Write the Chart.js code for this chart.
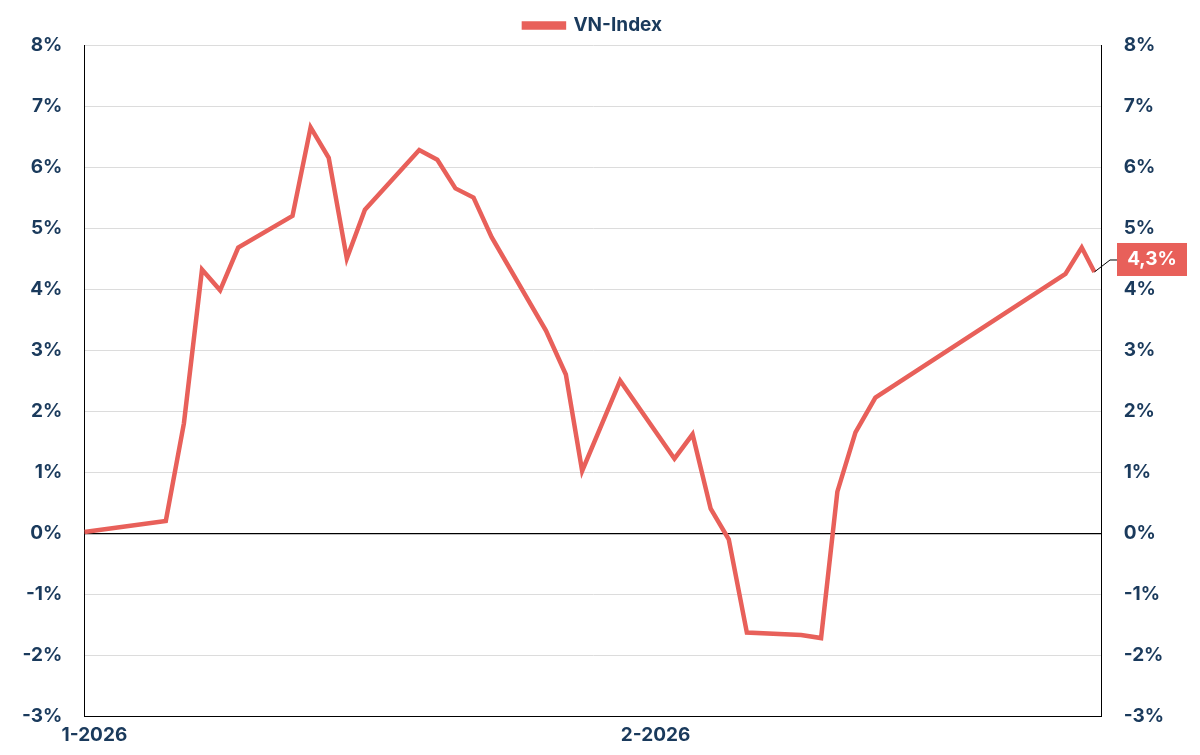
<!DOCTYPE html>
<html><head><meta charset="utf-8">
<script src="https://cdn.jsdelivr.net/npm/chart.js@4/dist/chart.umd.min.js"></script>
<style>html,body{margin:0;padding:0;background:#fff}#w{width:1200px;height:755px}</style>
</head><body><div id="w"><canvas id="c"></canvas></div>
<script>
const days=[0,4.5,5.5,6.5,7.5,8.5,11.5,12.5,13.5,14.5,15.5,18.5,19.5,20.5,21.5,22.5,25.5,26.6,27.5,29.6,32.6,33.6,34.6,35.6,36.6,39.6,40.7,41.6,42.6,43.7,54.2,55.1,55.8];
const vnIndex=[0.02,0.2,1.8,4.32,3.98,4.68,5.2,6.65,6.15,4.5,5.3,6.28,6.12,5.65,5.5,4.85,3.32,2.6,1.02,2.5,1.22,1.62,0.4,-0.1,-1.63,-1.67,-1.72,0.68,1.65,2.22,4.25,4.68,4.28];
const xTicks=[0,31];
const xTickLabels={0:'1-2026',31:'2-2026'};
const lastLabel='4,3%';
const navy='#1a3a5c', red='#e8605a';
const font={family:'Inter, Roboto, sans-serif',size:19,weight:'bold'};
const tagPlugin={id:'tag',afterDatasetsDraw(ch){
  const ctx=ch.ctx,x=ch.scales.x,y=ch.scales.y;
  const n=days.length-1,px=x.getPixelForValue(days[n]),py=y.getPixelForValue(vnIndex[n]);
  const bx=1117,by=py-17;
  ctx.save();ctx.strokeStyle='#000';ctx.lineWidth=1;ctx.beginPath();
  ctx.moveTo(px,py);ctx.lineTo(1110,py-12);ctx.lineTo(bx,py-12);ctx.stroke();
  ctx.fillStyle=red;ctx.fillRect(bx,by-12,70,33);
  ctx.fillStyle='#fff';ctx.font='bold 19px Inter, Roboto, sans-serif';ctx.textAlign='center';ctx.textBaseline='middle';
  ctx.fillText(lastLabel,bx+35,by+4);ctx.restore();}};
new Chart(document.getElementById('c'),{type:'line',
 data:{datasets:[{label:'VN-Index',data:days.map((d,i)=>({x:d,y:vnIndex[i]})),borderColor:red,backgroundColor:red,borderWidth:4.5,pointRadius:0,tension:0}]},
 options:{responsive:true,maintainAspectRatio:false,animation:false,
  layout:{padding:{top:6,right:14,left:0,bottom:0}},
  plugins:{legend:{labels:{color:navy,font:font,boxWidth:40,boxHeight:4}},tooltip:{enabled:false}},
  scales:{
   x:{type:'linear',min:0,max:56.2,afterBuildTicks:s=>{s.ticks=xTicks.map(v=>({value:v}));},
      grid:{display:false,drawTicks:false},border:{color:'#000',width:1},
      ticks:{color:navy,font:font,autoSkip:false,maxRotation:0,labelOffset:10,padding:8,callback:v=>xTickLabels[v]}},
   y:{position:'left',min:-3,max:8,afterBuildTicks:s=>{s.ticks=[];for(let v=-3;v<=8;v++)s.ticks.push({value:v});},
      grid:{color:c=>c.tick.value===0?'#000':'#dcdcdc',lineWidth:c=>c.tick.value===0?1.2:1,drawTicks:false},border:{color:'#000'},
      ticks:{color:navy,font:font,padding:22,callback:v=>v+'%'}},
   y2:{position:'right',min:-3,max:8,afterBuildTicks:s=>{s.ticks=[];for(let v=-3;v<=8;v++)s.ticks.push({value:v});},
      grid:{display:false,drawTicks:false},border:{color:'#000'},
      ticks:{color:navy,font:font,padding:22,callback:v=>v+'%'}}
  }},plugins:[tagPlugin]});
</script></body></html>
